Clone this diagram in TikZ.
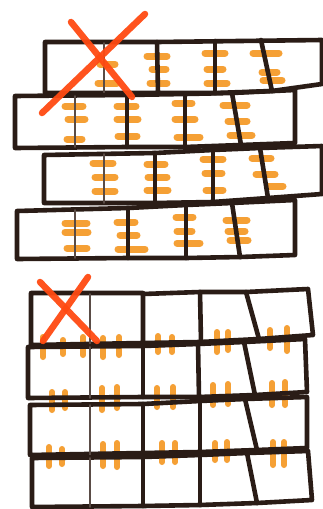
\documentclass[tikz,border=0pt]{standalone}
\definecolor{ink}{HTML}{2A1C16}
\definecolor{thinink}{HTML}{5A4C46}
\definecolor{glue}{HTML}{F5A035}
\definecolor{xred}{HTML}{FF4A12}
\begin{document}
\begin{tikzpicture}[x=1pt,y=-1pt,
  brick/.style={line width=4.6pt, draw=ink, line join=round, line cap=round},
  seam/.style={line width=1.6pt, draw=thinink, line cap=round},
  gluemark/.style={line width=7pt, draw=glue, line cap=round},
  gluev/.style={line width=6pt, draw=glue, line cap=round},
  cross/.style={line width=6.5pt, draw=xred, line cap=round, opacity=0.95}]
\useasboundingbox (0,0) rectangle (323,509);
\fill[white] (0,0) rectangle (323,509);

% ---------- top wall: glue marks (horizontal) ----------
\foreach \a/\b/\y in {
  100/115/64, 98/117/83,
  147/167/56, 152/166/69, 150/167/83,
  205/225/53, 207/223/69, 207/227/83,
  253/279/53, 262/277/72, 263/282/80,
  65/83/106, 68/85/119, 67/82/139,
  117/136/106, 117/138/119, 118/137/136,
  175/192/103, 175/195/119, 177/200/137,
  223/247/105, 228/247/121, 230/252/135,
  93/113/163, 95/115/177, 95/115/191,
  147/165/164, 148/167/177, 147/168/190,
  203/223/159, 205/222/173, 206/223/190,
  252/271/158, 256/275/174, 268/283/186,
  65/87/223, 65/88/232, 67/87/248,
  117/135/222, 120/137/235, 118/145/249,
  176/193/217, 177/192/231, 177/200/243,
  226/247/220, 228/245/231, 230/248/240}
  \draw[gluemark] (\a,\y) -- (\b,\y);

% ---------- top wall: bricks ----------
% row 1
\draw[brick] (45,42) -- (157,42) -- (158,93) -- (45,93) -- cycle;
\draw[brick] (157,42) -- (322,40) -- (322,84) -- (272,91) -- (215,93) -- (158,93);
\draw[brick] (215,41) -- (215,93);
\draw[brick] (261,40) -- (272,91);
\draw[seam] (104,43) -- (104,93);
% row 2
\draw[brick] (15,96) -- (127,95) -- (185,94) -- (232,93) -- (295,90) -- (295,143) -- (241,145) -- (185,147) -- (127,147) -- (15,148) -- cycle;
\draw[brick] (127,95) -- (127,147);
\draw[brick] (185,94) -- (185,147);
\draw[brick] (232,93) -- (241,145);
\draw[seam] (75,96) -- (75,147);
% row 3
\draw[brick] (44,155) -- (155,153) -- (213,150) -- (260,148) -- (322,146) -- (322,194) -- (268,198) -- (213,202) -- (155,203) -- (44,203) -- cycle;
\draw[brick] (155,153) -- (155,203);
\draw[brick] (213,150) -- (213,202);
\draw[brick] (260,148) -- (268,198);
\draw[seam] (104,154) -- (104,203);
% row 4
\draw[brick] (17,211) -- (128,208) -- (186,205) -- (232,203) -- (295,200) -- (295,255) -- (240,257) -- (186,258) -- (128,258) -- (17,259) -- cycle;
\draw[brick] (128,208) -- (128,258);
\draw[brick] (186,205) -- (186,258);
\draw[brick] (232,203) -- (240,257);
\draw[seam] (75,210) -- (75,258);

% red cross, top
\draw[cross] (71,22) -- (132,97);
\draw[cross] (145,14) -- (42,113);

% ---------- bottom wall: glue marks (vertical) ----------
\foreach \x/\a/\b in {
  43/337/357, 63/340/354, 83/337/355, 103/338/357, 119/337/355,
  158/336/352, 172/337/352, 217/332/352, 228/332/350, 270/330/348, 287/328/351,
  52/392/410, 65/392/408, 102/388/410, 117/387/408, 157/388/407, 173/387/407,
  213/385/405, 228/384/404, 272/383/405, 285/382/405,
  49/447/466, 62/449/464, 103/444/466, 117/443/467, 162/443/462, 175/443/462,
  215/443/460, 227/442/460, 273/442/465, 284/442/465}
  \draw[gluev] (\x,\a) -- (\x,\b);

% ---------- bottom wall: bricks ----------
% row 1
\draw[brick] (31,293) -- (143,293) -- (143,343) -- (31,345) -- cycle;
\draw[brick] (143,294) -- (200,292) -- (246,292) -- (308,289) -- (313,335) -- (259,339) -- (200,342) -- (143,343);
\draw[brick] (200,292) -- (201,342);
\draw[brick] (246,292) -- (259,339);
\draw[seam] (90,294) -- (90,345);
% row 2
\draw[brick] (28,347) -- (143,346) -- (198,344) -- (244,342) -- (305,339) -- (307,392) -- (255,395) -- (199,397) -- (143,397) -- (28,398) -- cycle;
\draw[brick] (143,346) -- (143,397);
\draw[brick] (198,344) -- (199,397);
\draw[brick] (244,342) -- (255,395);
\draw[seam] (90,347) -- (90,398);
% row 3
\draw[brick] (30,405) -- (143,404) -- (200,401) -- (245,399) -- (307,397) -- (307,448) -- (257,450) -- (200,452) -- (143,453) -- (30,455) -- cycle;
\draw[brick] (143,404) -- (143,453);
\draw[brick] (200,401) -- (200,452);
\draw[brick] (245,399) -- (257,450);
\draw[seam] (90,405) -- (90,455);
% row 4
\draw[brick] (32,458) -- (143,457) -- (200,455) -- (247,453) -- (308,451) -- (312,500) -- (257,503) -- (200,505) -- (143,506) -- (32,507) -- cycle;
\draw[brick] (143,457) -- (143,506);
\draw[brick] (200,455) -- (200,505);
\draw[brick] (247,453) -- (257,503);
\draw[seam] (90,458) -- (90,507);

% red cross, bottom
\draw[cross] (40,282) -- (97,341);
\draw[cross] (88,277) -- (43,341);
\end{tikzpicture}
\end{document}
